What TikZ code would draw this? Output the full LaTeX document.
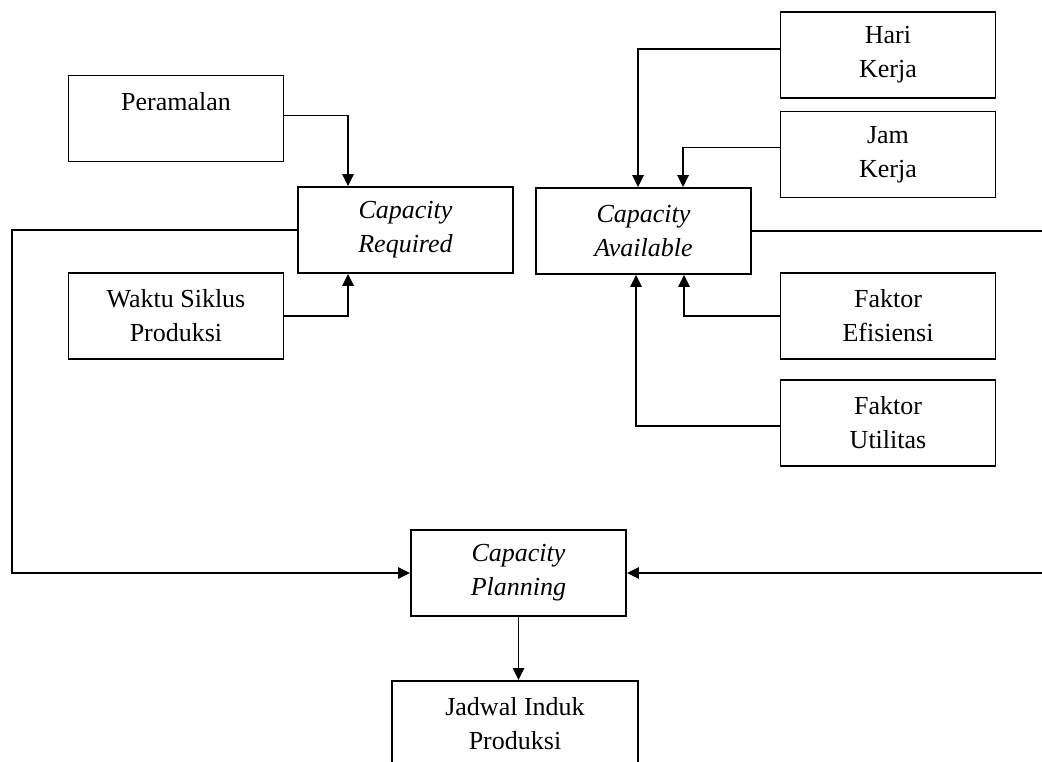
\documentclass[tikz,border=0pt]{standalone}
\usepackage{fontspec}
\setmainfont{Liberation Serif}
\usetikzlibrary{arrows.meta,calc}

\tikzset{every picture/.style={line width=0.75pt}}
\tikzset{
  kotak/.style={draw, line width=1.4pt, minimum width=161.25pt, minimum height=64.5pt,
    inner sep=0pt, align=center, font=\fontsize{19.5}{25.5}\selectfont},
  kotakmiring/.style={kotak, font=\fontsize{19.5}{25.5}\selectfont\itshape},
  alir/.style={line width=1.4pt, -{Triangle[length=9pt,width=8.5pt]}},
  garis/.style={line width=1.4pt}
}

\begin{document}
\begin{tikzpicture}[x=0.75pt,y=0.75pt,yscale=-1,xscale=1]
\clip (0,0) rectangle (1042,761);

%Shape: Rectangle [left column]
\node [kotak] (peramalan) at (176,118.5) {Peramalan\\~};
\node [kotak] (waktu) at (176,316) {Waktu Siklus\\Produksi};
%Shape: Rectangle [capacity]
\node [kotakmiring] (required) at (405.5,230) {Capacity\\Required};
\node [kotakmiring] (available) at (643.5,231) {Capacity\\Available};
\node [kotakmiring] (planning) at (518.5,573) {Capacity\\Planning};
%Shape: Rectangle [right column]
\node [kotak] (hari) at (888,55) {Hari\\Kerja};
\node [kotak] (jam) at (888,154.5) {Jam\\Kerja};
\node [kotak] (efisiensi) at (888,316) {Faktor\\Efisiensi};
\node [kotak] (utilitas) at (888,423) {Faktor\\Utilitas};
%Shape: Rectangle [bottom]
\node [kotak, minimum width=184.5pt] (jadwal) at (515,724) {Jadwal Induk\\Produksi};

%corners of the long return lines
\coordinate (kiri) at (12,400);
\coordinate (kanan) at (1048,400);

%Straight Lines [into capacity required]
\draw [alir] ($(peramalan.east)+(0,-3)$) -| ($(required.north west)+(51,0)$);
\draw [alir] (waktu.east) -| ($(required.south west)+(51,0)$);
%Straight Lines [into capacity available]
\draw [alir] ($(hari.west)+(0,-6)$) -| ($(available.north west)+(103,0)$);
\draw [alir] ($(jam.west)+(0,-7)$) -| ($(available.north west)+(148,0)$);
\draw [alir] (efisiensi.west) -| ($(available.south west)+(149,0)$);
\draw [alir] ($(utilitas.west)+(0,3)$) -| ($(available.south west)+(101,0)$);
%Straight Lines [into capacity planning]
\draw [alir] (required.west) -| (kiri) |- (planning.west);
\draw [alir] (available.east) -| (kanan) |- (planning.east);
%Straight Lines [to jadwal induk]
\draw [alir] (planning.south) -- (planning.south |- jadwal.north);

\end{tikzpicture}
\end{document}
